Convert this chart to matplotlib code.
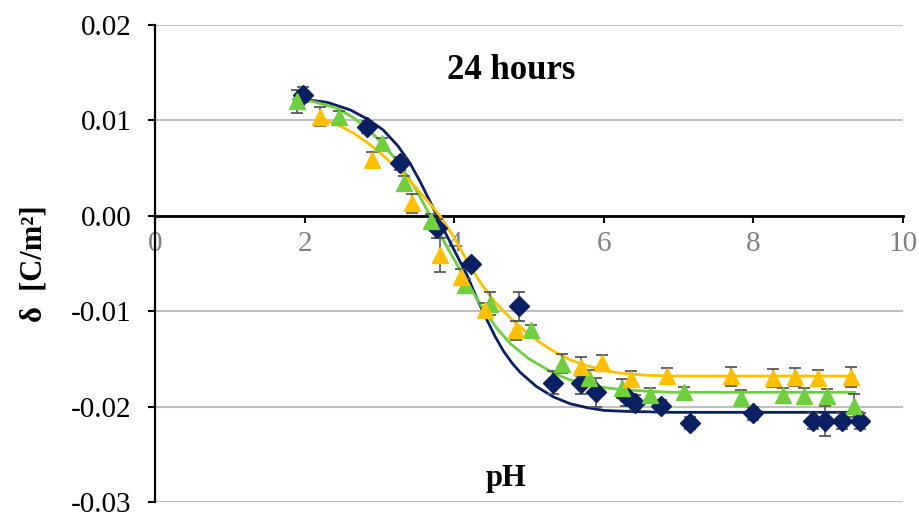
import numpy as np
import matplotlib
matplotlib.use("Agg")
import matplotlib.pyplot as plt

plt.rcParams['font.family'] = ['Liberation Serif', 'DejaVu Serif']

# measured points (pH, delta) with error bars
ph_navy = [1.98, 2.83, 3.28, 3.77, 4.22, 4.86, 5.32, 5.70, 5.90, 6.30, 6.42, 6.76,
           7.15, 8.00, 8.79, 8.96, 9.19, 9.43]
d_navy = [0.0127, 0.0093, 0.0055, -0.0013, -0.0051, -0.0095, -0.0175, -0.0175, -0.0185,
          -0.0189, -0.0196, -0.0199, -0.0217, -0.0207, -0.0215, -0.0215, -0.0215, -0.0215]
e_navy = [0.0008, 0.0006, 0.0007, 0.0010, 0.0005, 0.0015, 0.0012, 0.0012, 0.0015,
          0.0010, 0.0008, 0.0006, 0.0006, 0.0007, 0.0008, 0.0016, 0.0008, 0.0008]

ph_green = [1.90, 2.46, 3.03, 3.33, 3.69, 4.14, 4.48, 5.02, 5.44, 5.80, 6.24, 6.62,
            7.07, 7.84, 8.39, 8.68, 8.99, 9.34]
d_green = [0.0120, 0.0104, 0.0076, 0.0034, -0.0005, -0.0073, -0.0092, -0.0120, -0.0155,
           -0.0170, -0.0181, -0.0188, -0.0185, -0.0191, -0.0188, -0.0189, -0.0189, -0.0199]
e_green = [0.0012, 0.0006, 0.0006, 0.0008, 0.0007, 0.0007, 0.0012, 0.0006, 0.0010,
           0.0008, 0.0010, 0.0008, 0.0006, 0.0008, 0.0007, 0.0008, 0.0007, 0.0012]

ph_orange = [2.20, 2.90, 3.43, 3.81, 4.09, 4.41, 4.83, 5.70, 5.98, 6.36, 6.84, 7.70,
             8.26, 8.56, 8.87, 9.30]
d_orange = [0.0104, 0.0059, 0.0013, -0.0041, -0.0064, -0.0099, -0.0120, -0.0158, -0.0154,
            -0.0171, -0.0168, -0.0168, -0.0170, -0.0169, -0.0170, -0.0169]
e_orange = [0.0010, 0.0008, 0.0010, 0.0018, 0.0008, 0.0008, 0.0010, 0.0010, 0.0008,
            0.0008, 0.0008, 0.0010, 0.0009, 0.0009, 0.0008, 0.0010]

# fitted curves
fit_navy_x = [1.89, 2.30, 2.61, 2.85, 3.05, 3.25, 3.41, 3.55, 3.72, 3.85, 4.00, 4.17,
              4.30, 4.43, 4.55, 4.66, 4.77, 4.88, 5.10, 5.33, 5.55, 5.77, 6.00, 6.30,
              6.90, 8.00, 9.45]
fit_navy_y = [0.0123, 0.0119, 0.0111, 0.0101, 0.0090, 0.0073, 0.0055, 0.0035, 0.0008,
              -0.0013, -0.0036, -0.0062, -0.0086, -0.0108, -0.0127, -0.0142, -0.0154,
              -0.0164, -0.0179, -0.0190, -0.0197, -0.0201, -0.0204, -0.0205, -0.0206,
              -0.0206, -0.0206]
fit_green_x = [1.85, 2.10, 2.43, 2.65, 2.87, 3.05, 3.23, 3.38, 3.50, 3.72, 3.90, 4.08,
               4.25, 4.40, 4.57, 4.75, 5.00, 5.33, 5.55, 5.77, 6.00, 6.22, 6.60, 6.89,
               8.00, 9.35]
fit_green_y = [0.0122, 0.0120, 0.0113, 0.0103, 0.0089, 0.0075, 0.0058, 0.0041, 0.0026,
               -0.0006, -0.0032, -0.0057, -0.0080, -0.0099, -0.0118, -0.0134, -0.0150,
               -0.0165, -0.0172, -0.0177, -0.0180, -0.0182, -0.0184, -0.0185, -0.0185,
               -0.0185]
fit_orange_x = [2.21, 2.45, 2.65, 2.85, 3.01, 3.25, 3.45, 3.65, 3.81, 4.00, 4.17, 4.35,
                4.55, 4.75, 4.95, 5.15, 5.33, 5.55, 5.77, 6.00, 6.22, 6.55, 6.89, 8.00,
                9.35]
fit_orange_y = [0.0102, 0.0095, 0.0087, 0.0076, 0.0066, 0.0049, 0.0033, 0.0015, 0.0000,
                -0.0023, -0.0047, -0.0070, -0.0091, -0.0107, -0.0121, -0.0133, -0.0142,
                -0.0151, -0.0157, -0.0162, -0.0165, -0.0167, -0.0168, -0.0168, -0.0168]

xticks = [0, 2, 4, 6, 8, 10]
yticks = [0.02, 0.01, 0.00, -0.01, -0.02, -0.03]

navy = '#0B1F63'
green = '#6FCF3F'
orange = '#FFC000'
errc = '#595959'

fig = plt.figure(figsize=(9.19, 5.18), dpi=100)
ax = fig.add_axes([0.1687, 0.0309, 0.8139, 0.9208])

for fx, fy, c in [(fit_navy_x, fit_navy_y, navy), (fit_green_x, fit_green_y, green),
                  (fit_orange_x, fit_orange_y, orange)]:
    ax.plot(fx, fy, color=c, lw=2.0, zorder=3, solid_joinstyle='round')

ax.errorbar(ph_navy, d_navy, yerr=e_navy, fmt='D', ms=10, color=navy, mec=navy,
            ecolor=errc, elinewidth=1.2, capsize=4, capthick=1.3, zorder=4)
ax.errorbar(ph_green, d_green, yerr=e_green, fmt='^', ms=11, color=green, mec=green,
            ecolor=errc, elinewidth=1.2, capsize=4, capthick=1.3, zorder=4)
ax.errorbar(ph_orange, d_orange, yerr=e_orange, fmt='^', ms=11, color=orange, mec=orange,
            ecolor=errc, elinewidth=1.2, capsize=4, capthick=1.3, zorder=4)

ax.set_xlim(0, 10)
ax.set_ylim(-0.03, 0.02)
ax.set_xticks(xticks)
ax.set_yticks(yticks)
ax.set_yticklabels(['%.2f' % v for v in yticks])

ax.spines['top'].set_visible(False)
ax.spines['right'].set_visible(False)
ax.spines['bottom'].set_position(('data', 0))
ax.spines['bottom'].set_linewidth(2)
ax.spines['left'].set_linewidth(1.6)
ax.spines['bottom'].set_zorder(2)

ax.yaxis.grid(True, color='#C0C0C0', lw=1.5)
ax.set_axisbelow(True)

ax.tick_params(axis='y', direction='out', length=5, width=1.5, labelsize=21, pad=12)
ax.tick_params(axis='x', direction='out', length=5, width=1.5, labelsize=21,
               labelcolor='#808080', pad=6)

ax.text(4.76, 0.0152, '24 hours', fontsize=25, fontweight='bold', ha='center', va='center')
ax.text(4.69, -0.0275, 'pH', fontsize=22, fontweight='bold', ha='center', va='center')
ax.set_ylabel('δ  [C/m²]', fontsize=22, fontweight='bold', labelpad=16)

fig.savefig('out.png', dpi=100)
